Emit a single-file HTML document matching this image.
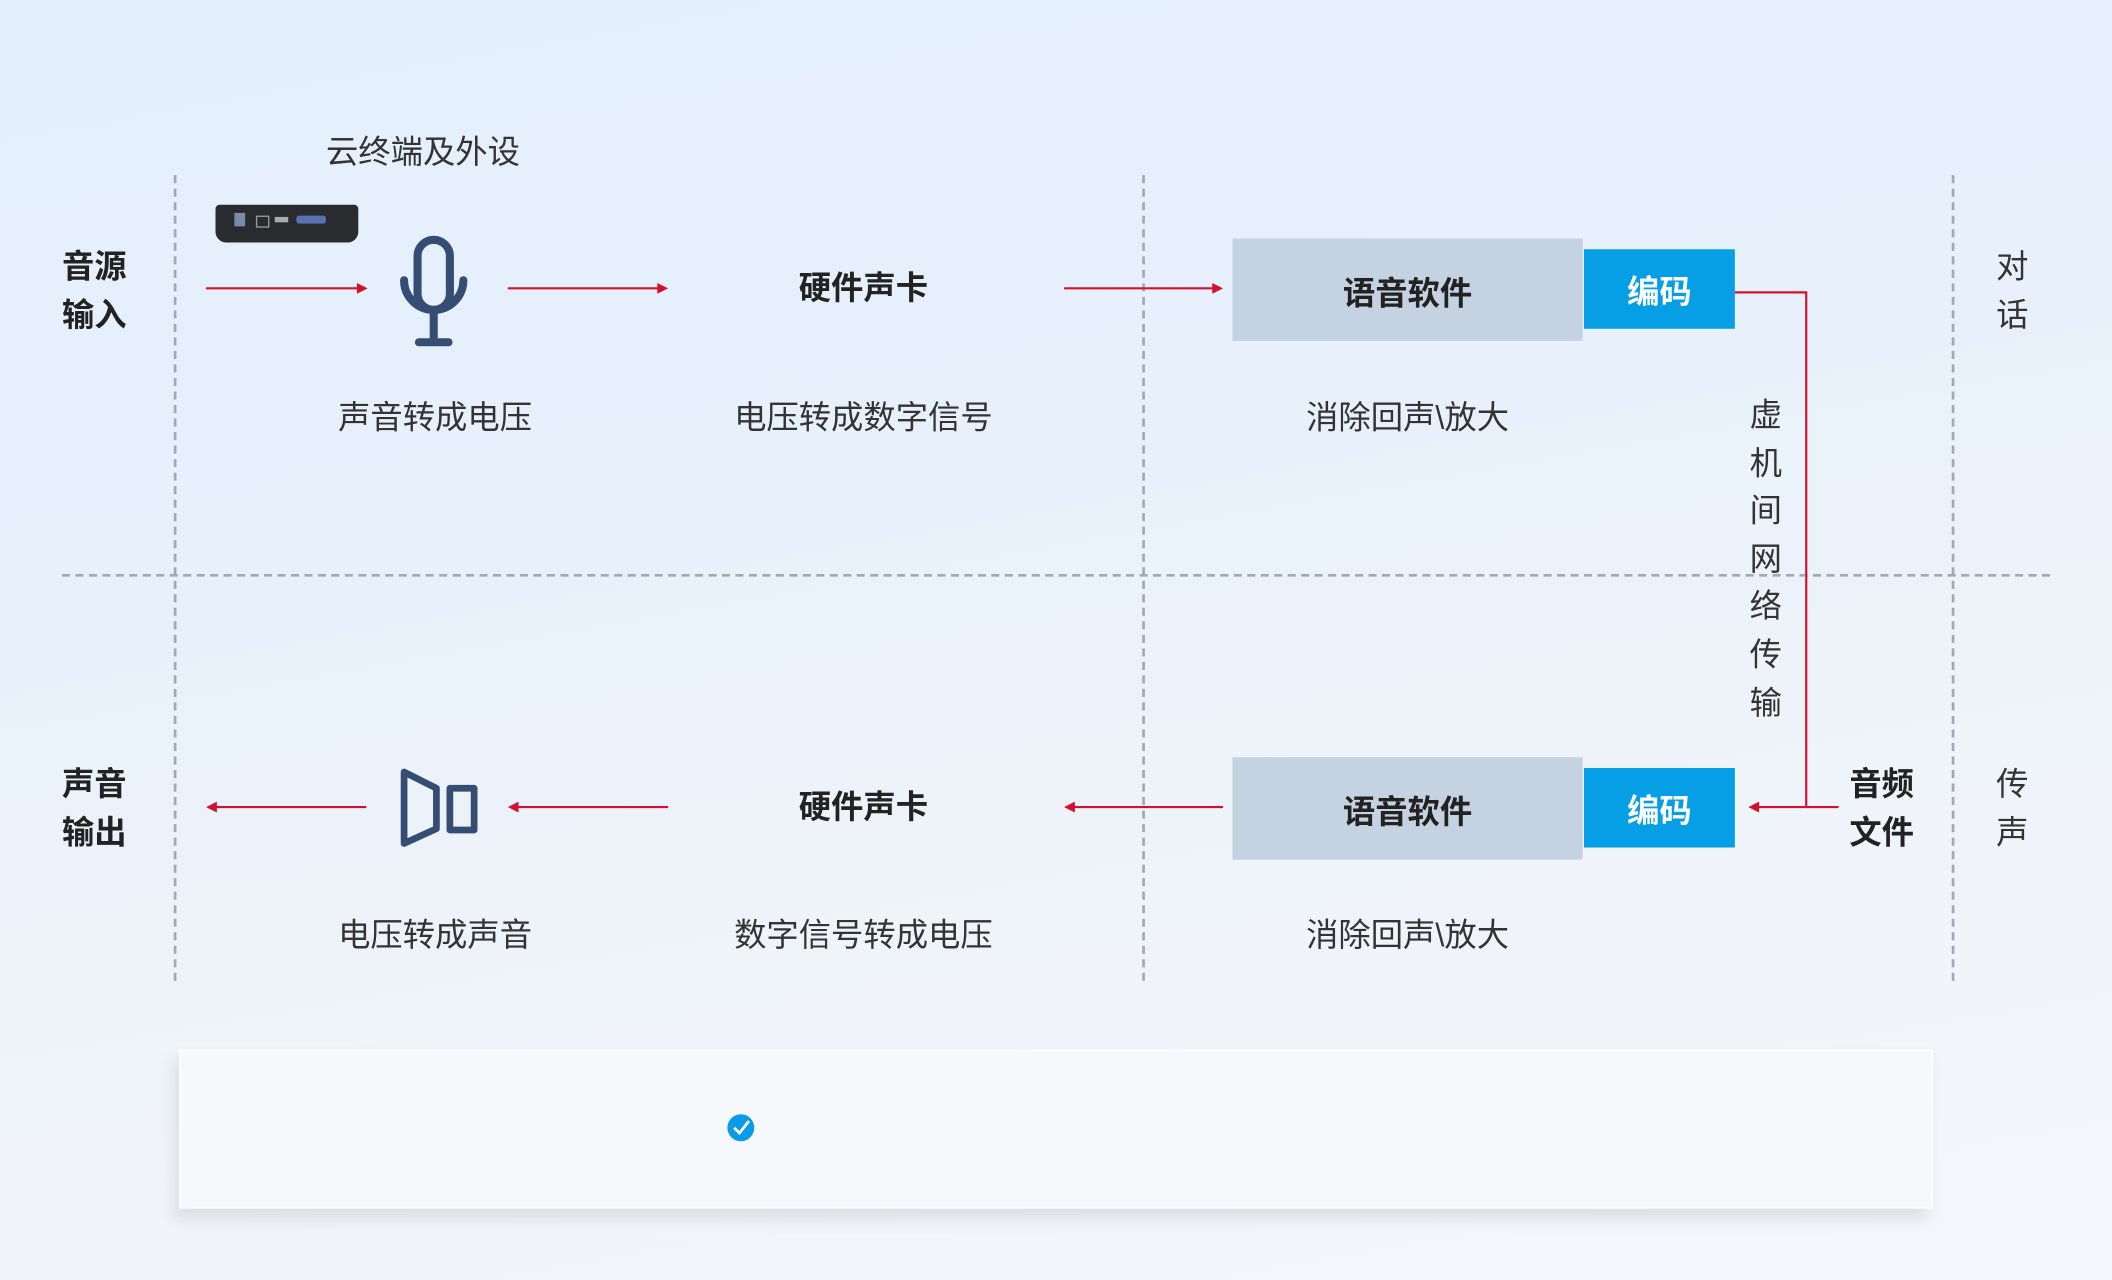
<!DOCTYPE html>
<html><head><meta charset="utf-8"><style>
html,body{margin:0;padding:0;width:2112px;height:1280px;overflow:hidden;}
body{background:linear-gradient(170deg,#e3effd 0%,#e8f1fb 40%,#eef3f9 60%,#f4f7fb 100%);}
#s{position:absolute;left:0;top:0;width:1568px;height:950px;transform:scale(1.34694,1.34737);transform-origin:0 0;font-family:"Liberation Sans","Noto Sans CJK SC",sans-serif;color:#333;}
.t{position:absolute;font-size:24px;line-height:36px;white-space:nowrap;}
.b{font-weight:bold;color:#222;}
.c{transform:translateX(-50%);text-align:center;}
.vd{position:absolute;top:130px;height:598px;border-left:2px dashed #a3a9b2;width:0;}
.box{position:absolute;display:flex;align-items:center;justify-content:center;font-size:24px;font-weight:bold;}
</style></head><body><div id="s">
<div class="vd" style="left:129px"></div>
<div class="vd" style="left:848px"></div>
<div class="vd" style="left:1449px"></div>
<div style="position:absolute;left:46px;top:426px;width:1476px;border-top:2px dashed #a3a9b2"></div>

<div class="t" style="left:242px;top:96px">云终端及外设</div>
<div style="position:absolute;left:160px;top:152px;width:106px;height:28px;background:#2a2b2e;border-radius:3px 3px 8px 8px"></div>
<div style="position:absolute;left:174px;top:158px;width:8px;height:10px;background:#7a8aa8"></div>
<div style="position:absolute;left:190px;top:160px;width:8px;height:7px;border:1px solid #999"></div>
<div style="position:absolute;left:204px;top:161px;width:10px;height:4px;background:#aaa"></div>
<div style="position:absolute;left:220px;top:160px;width:22px;height:6px;background:#5a70b0;border-radius:2px"></div>

<div class="t b" style="left:46px;top:181px;line-height:36px">音源<br>输入</div>
<div class="t b" style="left:46px;top:565px;line-height:36px">声音<br>输出</div>
<div class="t" style="left:1482px;top:181px;line-height:36px">对<br>话</div>
<div class="t" style="left:1482px;top:565px;line-height:36px">传<br>声</div>
<div class="t b" style="left:1373px;top:565px;line-height:36px">音频<br>文件</div>
<div class="t" style="left:1299px;top:291px;line-height:35.6px">虚<br>机<br>间<br>网<br>络<br>传<br>输</div>

<svg style="position:absolute;left:0;top:0" width="1568" height="950">
<g stroke="#d4102e" stroke-width="1.6" fill="none">
<line x1="153" y1="214" x2="266" y2="214"/><line x1="377" y1="214" x2="490" y2="214"/><line x1="790" y1="214" x2="902" y2="214"/>
<line x1="159" y1="599" x2="272" y2="599"/><line x1="383" y1="599" x2="496" y2="599"/><line x1="796" y1="599" x2="908" y2="599"/>
<polyline points="1288,217 1341,217 1341,599 1304,599"/><line x1="1341" y1="599" x2="1365" y2="599"/>
</g>
<g fill="#d4102e">
<polygon points="273,214 265,210 265,218"/><polygon points="496,214 488,210 488,218"/><polygon points="908,214 900,210 900,218"/>
<polygon points="153,599 161,595 161,603"/><polygon points="377,599 385,595 385,603"/><polygon points="790,599 798,595 798,603"/><polygon points="1298,599 1306,595 1306,603"/>
</g>
<g stroke="#354d72" stroke-width="6" fill="none" stroke-linecap="round">
<rect x="310" y="178" width="24" height="52" rx="12"/>
<path d="M300 208 a22 22 0 0 0 44 0"/><line x1="322" y1="230" x2="322" y2="253"/><line x1="311" y1="254" x2="333" y2="254"/>
</g>
<g stroke="#354d72" stroke-width="5" fill="none" stroke-linejoin="round">
<polygon points="300,573 324,585 324,615 300,626"/><rect x="334" y="585" width="18" height="31"/>
</g>
</svg>

<div class="t b c" style="left:641px;top:197px">硬件声卡</div>
<div class="t b c" style="left:641px;top:582px">硬件声卡</div>
<div class="box" style="left:915px;top:177px;width:260px;height:76px;background:#c5d2e1;color:#222">语音软件</div>
<div class="box" style="left:915px;top:562px;width:260px;height:76px;background:#c5d2e1;color:#222">语音软件</div>
<div class="box" style="left:1176px;top:185px;width:112px;height:59px;background:#069fe6;color:#fff">编码</div>
<div class="box" style="left:1176px;top:570px;width:112px;height:59px;background:#069fe6;color:#fff">编码</div>

<div class="t c" style="left:323px;top:293px">声音转成电压</div>
<div class="t c" style="left:641px;top:293px">电压转成数字信号</div>
<div class="t c" style="left:1045px;top:293px">消除回声\放大</div>
<div class="t c" style="left:323px;top:677px">电压转成声音</div>
<div class="t c" style="left:641px;top:677px">数字信号转成电压</div>
<div class="t c" style="left:1045px;top:677px">消除回声\放大</div>

<div style="position:absolute;left:133px;top:779px;width:1300px;height:116px;background:#f6f9fc;border:1px solid #fff;box-shadow:-4px 8px 10px rgba(150,160,170,0.25)"></div>
<svg style="position:absolute;left:0;top:0" width="1568" height="950"><circle cx="550" cy="837" r="10" fill="#0a9be6"/><polyline points="545,837 549,841 556,832" stroke="#fff" stroke-width="2" fill="none"/></svg>
</div></body></html>
